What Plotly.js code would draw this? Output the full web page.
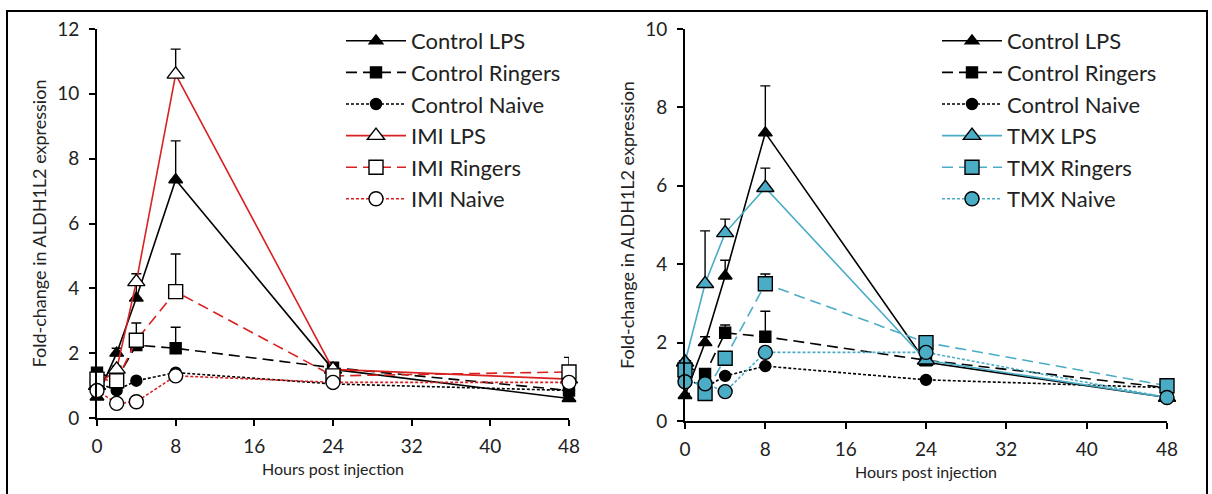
<!DOCTYPE html>
<html>
<head>
<meta charset="utf-8">
<script src="https://cdn.plot.ly/plotly-3.0.1.min.js"></script>
<style>html,body{margin:0;padding:0;background:#fff;}#chart{width:1212px;height:494px;}</style>
</head>
<body>
<div id="chart"></div>
<script>
// ---- data ----
const hours = [0, 2, 4, 8, 24, 48];
const xTicks = [0, 8, 16, 24, 32, 40, 48];

const controlLPS      = [0.65, 2.0, 3.7, 7.35, 1.5, 0.6];
const controlLPSErr   = [0.05, 0.15, 0.4, 1.2, 0.05, 0.05];
const controlRingers    = [1.4, 1.2, 2.25, 2.15, 1.55, 0.85];
const controlRingersErr = [0.1, 0.1, 0.2, 0.65, 0.05, 0.05];
const controlNaive    = [1.1, 0.85, 1.15, 1.4, 1.05, 0.85];
const controlNaiveErr = [0.05, 0.05, 0.05, 0.05, 0.05, 0.05];

const imiLPS      = [1.0, 1.5, 4.2, 10.6, 1.5, 1.2];
const imiLPSErr   = [0.1, 0.1, 0.25, 0.78, 0.05, 0.05];
const imiRingers    = [1.2, 1.15, 2.4, 3.9, 1.3, 1.42];
const imiRingersErr = [0.05, 0.05, 0.53, 1.16, 0.05, 0.45];
const imiNaive    = [0.85, 0.45, 0.5, 1.3, 1.1, 1.1];
const imiNaiveErr = [0.05, 0.05, 0.05, 0.05, 0.05, 0.05];

const tmxLPS      = [1.5, 3.5, 4.8, 5.95, 1.55, 0.6];
const tmxLPSErr   = [0.05, 1.35, 0.35, 0.5, 0.05, 0.05];
const tmxRingers    = [1.3, 0.7, 1.6, 3.5, 2.0, 0.9];
const tmxRingersErr = [0.05, 0.05, 0.05, 0.25, 0.05, 0.05];
const tmxNaive    = [1.0, 0.95, 0.75, 1.75, 1.75, 0.6];
const tmxNaiveErr = [0.05, 0.05, 0.05, 0.05, 0.05, 0.05];

// ---- styles ----
const RED = '#D92121';
const TEAL = '#4BACC6';
const FONT = 'Lato, "Open Sans", sans-serif';

function series(name, y, err, lineColor, dash, symbol, fill, size, xa, ya, legend) {
  return {
    type: 'scatter', mode: 'lines+markers', name: name,
    x: hours, y: y, xaxis: xa, yaxis: ya, legend: legend,
    cliponaxis: false,
    line: {color: lineColor, width: 1.6, dash: dash},
    marker: {symbol: symbol, size: size, color: fill, line: {color: '#000', width: 1.4}},
    error_y: {type: 'data', symmetric: false, array: err, arrayminus: hours.map(() => 0),
              color: '#000', thickness: 1.4, width: 5}
  };
}

const traces = [
  series('Control LPS', controlLPS, controlLPSErr, '#000', 'solid', 'triangle-up', '#000', 12, 'x', 'y', 'legend'),
  series('Control Ringers', controlRingers, controlRingersErr, '#000', '11px,6px', 'square', '#000', 11, 'x', 'y', 'legend'),
  series('Control Naive', controlNaive, controlNaiveErr, '#000', '3px,2px', 'circle', '#000', 11, 'x', 'y', 'legend'),
  series('IMI LPS', imiLPS, imiLPSErr, RED, 'solid', 'triangle-up', '#fff', 15, 'x', 'y', 'legend'),
  series('IMI Ringers', imiRingers, imiRingersErr, RED, '11px,6px', 'square', '#fff', 14, 'x', 'y', 'legend'),
  series('IMI Naive', imiNaive, imiNaiveErr, RED, '3px,2px', 'circle', '#fff', 14, 'x', 'y', 'legend'),

  series('Control LPS', controlLPS, controlLPSErr, '#000', 'solid', 'triangle-up', '#000', 12, 'x2', 'y2', 'legend2'),
  series('Control Ringers', controlRingers, controlRingersErr, '#000', '11px,6px', 'square', '#000', 11, 'x2', 'y2', 'legend2'),
  series('Control Naive', controlNaive, controlNaiveErr, '#000', '3px,2px', 'circle', '#000', 11, 'x2', 'y2', 'legend2'),
  series('TMX LPS', tmxLPS, tmxLPSErr, TEAL, 'solid', 'triangle-up', TEAL, 15, 'x2', 'y2', 'legend2'),
  series('TMX Ringers', tmxRingers, tmxRingersErr, TEAL, '11px,6px', 'square', TEAL, 14, 'x2', 'y2', 'legend2'),
  series('TMX Naive', tmxNaive, tmxNaiveErr, TEAL, '3px,2px', 'circle', TEAL, 14, 'x2', 'y2', 'legend2')
];

function xAxis(domain, anchor) {
  return {
    domain: domain, anchor: anchor, range: [0, 48], tickvals: xTicks,
    showline: true, linecolor: '#000', linewidth: 2,
    ticks: 'outside', ticklen: 6, tickwidth: 2, tickcolor: '#000',
    showgrid: false, zeroline: false, automargin: false, fixedrange: true,
    ticklabelstandoff: 4,
    tickfont: {family: FONT, size: 19, color: '#222'},
    title: {text: 'Hours post injection', font: {family: FONT, size: 16, color: '#222'}, standoff: 8}
  };
}
function yAxis(domain, anchor, max) {
  return {
    domain: domain, anchor: anchor, range: [0, max], dtick: 2,
    showline: true, linecolor: '#000', linewidth: 2,
    ticks: 'outside', ticklen: 6, tickwidth: 2, tickcolor: '#000',
    showgrid: false, zeroline: false, automargin: false, fixedrange: true,
    ticklabelstandoff: 6,
    tickfont: {family: FONT, size: 19, color: '#222'},
    title: {text: 'Fold-change in ALDH1L2 expression', font: {family: FONT, size: 18, color: '#222'}, standoff: 6}
  };
}

const legendBase = {
  yanchor: 'top', y: 1 - 20 / 494, bgcolor: 'rgba(0,0,0,0)',
  font: {family: FONT, size: 22, color: '#222'},
  traceorder: 'normal', itemwidth: 60
};

const layout = {
  width: 1212, height: 494,
  margin: {l: 0, r: 0, t: 0, b: 0},
  paper_bgcolor: '#fff', plot_bgcolor: '#fff',
  showlegend: true,
  font: {family: FONT},
  xaxis: xAxis([97 / 1212, 569 / 1212], 'y'),
  yaxis: yAxis([1 - 418 / 494, 1 - 29 / 494], 'x', 12),
  xaxis2: xAxis([685 / 1212, 1167 / 1212], 'y2'),
  yaxis2: yAxis([1 - 421 / 494, 1 - 29 / 494], 'x2', 10),
  legend: Object.assign({}, legendBase, {x: 341 / 1212, xanchor: 'left'}),
  legend2: Object.assign({}, legendBase, {x: 937 / 1212, xanchor: 'left'}),
  shapes: [{
    type: 'rect', xref: 'paper', yref: 'paper',
    x0: 7 / 1212, x1: 1207 / 1212, y0: -0.2, y1: 1 - 11 / 494,
    line: {color: '#000', width: 2}, fillcolor: 'rgba(0,0,0,0)', layer: 'below'
  }]
};

Plotly.newPlot('chart', traces, layout, {staticPlot: true, displayModeBar: false});
</script>
</body>
</html>
